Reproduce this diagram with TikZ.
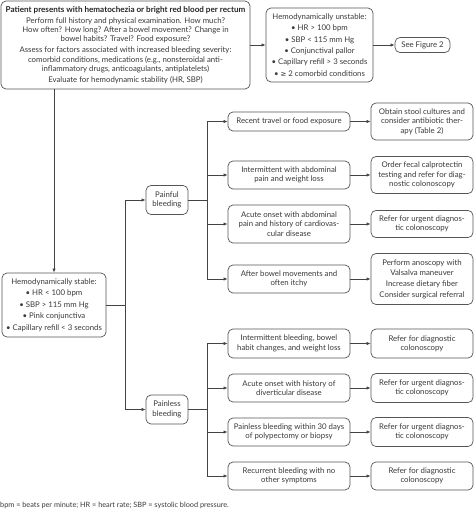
\documentclass[tikz,border=0pt]{standalone}
\usepackage{fontspec}
\setmainfont{Lato}
\newfontfamily\symf{DejaVu Sans}
\usetikzlibrary{arrows.meta}
\definecolor{tgray}{HTML}{3A3A3A}
\definecolor{bgray}{HTML}{555555}
\definecolor{lgray}{HTML}{444444}
\begin{document}
\begin{tikzpicture}[x=1pt,y=-1pt,
  box/.style={draw=bgray, rounded corners=5pt, line width=0.7pt, align=center, inner sep=1pt,
    font=\fontsize{7.8}{9.4}\selectfont, text=tgray},
  lbox/.style={box, font=\fontsize{7.8}{11.4}\selectfont},
  arr/.style={draw=lgray, line width=0.6pt, -{Latex[length=4pt,width=3.2pt]}},
  ln/.style={draw=lgray, line width=0.6pt}]
\useasboundingbox (0,0) rectangle (474,510);
\fill[white] (0,0) rectangle (474,510);

\node[box, minimum width=249pt, minimum height=88pt] (top) at (125.5,45)
 {{\bfseries\color{black!85}\fontsize{8.1}{9.4}\selectfont Patient presents with hematochezia or bright red blood per rectum}\\[1.5pt]
  Perform full history and physical examination. How much?\\
  How often? How long? After a bowel movement? Change in\\
  bowel habits? Travel? Food exposure?\\[1.5pt]
  Assess for factors associated with increased bleeding severity:\\
  comorbid conditions, medications (e.g., nonsteroidal anti-\\
  inflammatory drugs, anticoagulants, antiplatelets)\\[1.5pt]
  Evaluate for hemodynamic stability (HR, SBP)};

\node[lbox, minimum width=107pt, minimum height=74pt] (unst) at (319.5,45)
 {Hemodynamically unstable:\\
  • HR > 100 bpm\\
  • SBP < 115 mm Hg\\
  • Conjunctival pallor\\
  • Capillary refill > 3 seconds\\
  • {\symf\fontsize{7}{11.4}\selectfont ≥} 2 comorbid conditions};

\node[box, minimum width=55pt, minimum height=15pt] (fig) at (422.5,45) {See Figure 2};

\node[lbox, minimum width=104pt, minimum height=64pt] (stab) at (54,305)
 {Hemodynamically stable:\\
  • HR < 100 bpm\\
  • SBP > 115 mm Hg\\
  • Pink conjunctiva\\
  • Capillary refill < 3 seconds};

\node[box, minimum width=42pt, minimum height=29pt] (pf) at (167,200) {Painful\\bleeding};
\node[box, minimum width=42pt, minimum height=29pt] (pl) at (167,409.5) {Painless\\bleeding};

% painful middle
\node[box, minimum width=122pt, minimum height=19pt] (m1) at (289,121.5) {Recent travel or food exposure};
\node[box, minimum width=122pt, minimum height=28pt] (m2) at (289,175) {Intermittent with abdominal\\pain and weight loss};
\node[box, minimum width=122pt, minimum height=38pt] (m3) at (289,224) {Acute onset with abdominal\\pain and history of cardiovas-\\cular disease};
\node[box, minimum width=122pt, minimum height=28pt] (m4) at (289,279) {After bowel movements and\\often itchy};
% painful right
\node[box, minimum width=102pt, minimum height=37pt] (r1) at (422,121.5) {Obtain stool cultures and\\consider antibiotic ther-\\apy (Table 2)};
\node[box, minimum width=102pt, minimum height=37pt] (r2) at (422,175) {Order fecal calprotectin\\testing and refer for diag-\\nostic colonoscopy};
\node[box, minimum width=102pt, minimum height=27pt] (r3) at (422,224) {Refer for urgent diagnos-\\tic colonoscopy};
\node[box, minimum width=102pt, minimum height=51pt, font=\fontsize{7.8}{10.6}\selectfont] (r4) at (422,279) {Perform anoscopy with\\Valsalva maneuver\\Increase dietary fiber\\Consider surgical referral};

% painless middle
\node[box, minimum width=122pt, minimum height=29pt] (n1) at (289,343.5) {Intermittent bleeding, bowel\\habit changes, and weight loss};
\node[box, minimum width=122pt, minimum height=28pt] (n2) at (289,388) {Acute onset with history of\\diverticular disease};
\node[box, minimum width=122pt, minimum height=28pt] (n3) at (289,432) {Painless bleeding within 30 days\\of polypectomy or biopsy};
\node[box, minimum width=122pt, minimum height=28pt] (n4) at (289,476) {Recurrent bleeding with no\\other symptoms};
% painless right
\node[box, minimum width=102pt, minimum height=29pt] (s1) at (422,343.5) {Refer for diagnostic\\colonoscopy};
\node[box, minimum width=102pt, minimum height=29pt] (s2) at (422,388) {Refer for urgent diagnos-\\tic colonoscopy};
\node[box, minimum width=102pt, minimum height=29pt] (s3) at (422,432) {Refer for urgent diagnos-\\tic colonoscopy};
\node[box, minimum width=102pt, minimum height=28pt] (s4) at (422,476) {Refer for diagnostic\\colonoscopy};

\node[anchor=west, inner sep=0pt, font=\fontsize{7.3}{8}\selectfont, text=tgray] (foot) at (0,505)
 {bpm = beats per minute; HR = heart rate; SBP = systolic blood pressure.};

% connectors
\draw[arr] (top.east) -- (unst.west);
\draw[arr] (unst.east) -- (fig.west);
\draw[arr] (top.south -| stab.north) -- (stab.north);
\coordinate (j) at (125,305);
\draw[ln] (stab.east) -- (j);
\draw[arr] (j) |- (pf.west);
\draw[arr] (j) |- (pl.west);
\coordinate (k1) at (207,200);
\draw[ln] (pf.east) -- (k1);
\foreach \m in {m1,m2,m3,m4} \draw[arr] (k1) |- (\m.west);
\coordinate (k2) at (207,409.5);
\draw[ln] (pl.east) -- (k2);
\foreach \m in {n1,n2,n3,n4} \draw[arr] (k2) |- (\m.west);
\draw[arr] (m1.east) -- (r1.west);
\draw[arr] (m2.east) -- (r2.west);
\draw[arr] (m3.east) -- (r3.west);
\draw[arr] (m4.east) -- (r4.west);
\draw[arr] (n1.east) -- (s1.west);
\draw[arr] (n2.east) -- (s2.west);
\draw[arr] (n3.east) -- (s3.west);
\draw[arr] (n4.east) -- (s4.west);
\end{tikzpicture}
\end{document}
